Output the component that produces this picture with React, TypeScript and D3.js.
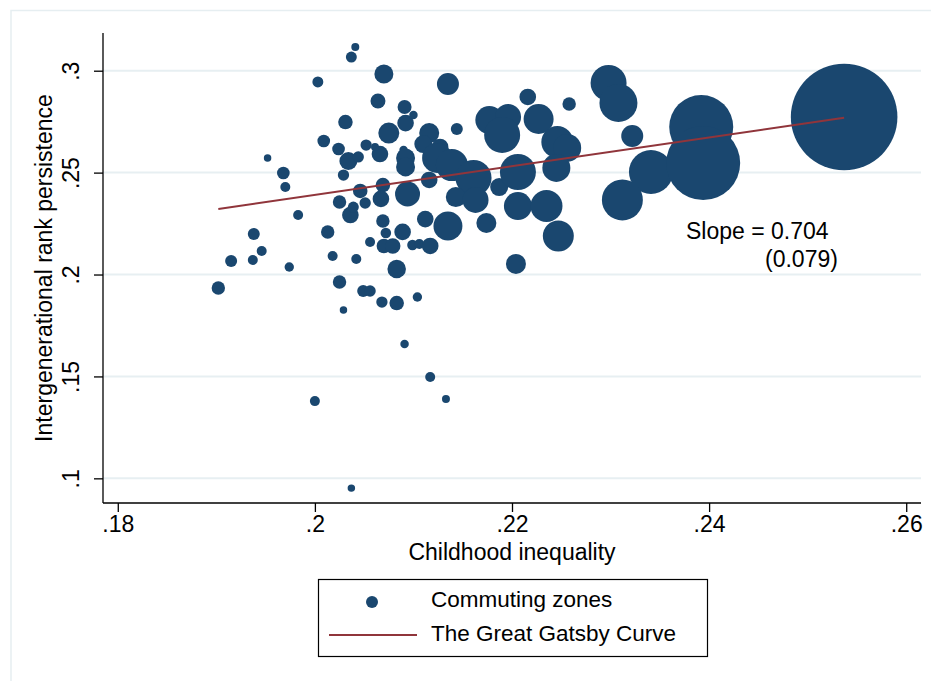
import React, { useEffect, useRef } from 'react'
import * as d3 from 'd3'

// commuting zones: childhood inequality (x), rank persistence (y), population weight (marker area)
const czInequality = [
  0.2041, 0.2037, 0.207, 0.2003, 0.2064, 0.2091, 0.2031, 0.2075, 0.2092, 0.2009,
  0.2024, 0.2052, 0.2066, 0.2061, 0.2034, 0.2044, 0.1952, 0.1968, 0.197, 0.2029,
  0.209, 0.2092, 0.2092, 0.2046, 0.2069, 0.2067, 0.2094, 0.2025, 0.2051, 0.2036,
  0.2039, 0.1983, 0.1938, 0.2013, 0.2069, 0.2072, 0.2089, 0.2056, 0.207, 0.2079,
  0.2099, 0.2106, 0.2117, 0.2083, 0.1915, 0.1937, 0.1946, 0.1974, 0.2018, 0.2042,
  0.1902, 0.2025, 0.2049, 0.2056, 0.2068, 0.2083, 0.2104, 0.2029, 0.2091, 0.2117,
  0.2133, 0.2, 0.2037, 0.2135, 0.21, 0.2116, 0.211, 0.2127, 0.2144, 0.2124,
  0.2139, 0.2161, 0.2143, 0.2163, 0.2116, 0.2135, 0.2112, 0.2174, 0.2187, 0.2206,
  0.2206, 0.2235, 0.2247, 0.2204, 0.2177, 0.2196, 0.219, 0.2216, 0.2227, 0.2246,
  0.2256, 0.2245, 0.2258, 0.2298, 0.2308, 0.2322, 0.2341, 0.2312, 0.2392, 0.2394,
  0.2537
]

const czPersistence = [
  0.3116, 0.3067, 0.2984, 0.2945, 0.2851, 0.2822, 0.2748, 0.2694, 0.2743, 0.2655,
  0.2616, 0.2635, 0.2591, 0.2626, 0.2557, 0.2577, 0.2572, 0.2498, 0.2429, 0.2488,
  0.2611, 0.2572, 0.2528, 0.241, 0.2439, 0.2371, 0.2395, 0.2356, 0.2351, 0.2292,
  0.2331, 0.2292, 0.2199, 0.2209, 0.2263, 0.2204, 0.2209, 0.216, 0.214, 0.214,
  0.2145, 0.215, 0.214, 0.2027, 0.2066, 0.2071, 0.2115, 0.2037, 0.2091, 0.2076,
  0.1934, 0.1963, 0.1919, 0.1919, 0.1865, 0.186, 0.189, 0.1826, 0.1659, 0.1497,
  0.1389, 0.1379, 0.0952, 0.2935, 0.2783, 0.2694, 0.264, 0.2626, 0.2714, 0.2572,
  0.2537, 0.2474, 0.238, 0.2366, 0.2464, 0.2238, 0.2272, 0.2253, 0.2429, 0.2503,
  0.2336, 0.2336, 0.2189, 0.2052, 0.2758, 0.2773, 0.2685, 0.2871, 0.2763, 0.265,
  0.2621, 0.2523, 0.2837, 0.294, 0.2842, 0.268, 0.2503, 0.2366, 0.2724, 0.2547,
  0.2773
]

const czWeight = [
  16, 30, 90, 30, 56, 49, 53, 110, 69, 40,
  40, 32, 69, 16, 81, 32, 14, 40, 25, 32,
  18, 90, 90, 53, 53, 69, 156, 45, 32, 69,
  30, 25, 36, 45, 45, 28, 69, 25, 53, 59,
  28, 25, 69, 86, 36, 25, 25, 22, 25, 25,
  45, 45, 36, 32, 32, 53, 22, 14, 18, 25,
  16, 25, 14, 121, 18, 100, 81, 69, 36, 225,
  256, 324, 100, 169, 69, 210, 69, 100, 81, 324,
  196, 256, 240, 100, 196, 169, 324, 69, 225, 256,
  196, 196, 45, 324, 361, 121, 484, 420, 1024, 1369,
  2841
]

const xTickValues = [0.18, 0.2, 0.22, 0.24, 0.26]
const xTickLabels = ['.18', '.2', '.22', '.24', '.26']
const yTickValues = [0.1, 0.15, 0.2, 0.25, 0.3]
const yTickLabels = ['.1', '.15', '.2', '.25', '.3']

// fitted line y = a + b x
const fitIntercept = 0.0983
const fitSlope = 0.704
const fitSE = 0.079

const legendLabels = ['Commuting zones', 'The Great Gatsby Curve']

const FONT = '"Liberation Sans", Arial, Helvetica, sans-serif'
const NAVY = '#1a476f'
const MAROON = '#90353b'
const GRID = '#e7eff2'

const width = 931
const height = 681
const plot = { left: 103, right: 921, top: 33, bottom: 503 }

const Chart = () => {
  const ref = useRef<SVGSVGElement>(null)

  useEffect(() => {
    const svg = d3.select(ref.current)
    svg.selectAll('*').remove()

    const points = czInequality.map((x, i) => ({ x, y: czPersistence[i], w: czWeight[i] }))

    const xScale = d3.scaleLinear().domain([0.1785, 0.2615]).range([plot.left, plot.right])
    const yScale = d3.scaleLinear().domain([0.0879, 0.3185]).range([plot.bottom, plot.top])
    const rScale = d3
      .scaleSqrt()
      .domain([0, d3.max(czWeight) as number])
      .range([0, 53.3])

    // outer graph region frame
    svg
      .append('rect')
      .attr('x', 11)
      .attr('y', 10.5)
      .attr('width', 960)
      .attr('height', 720)
      .attr('fill', 'none')
      .attr('stroke', '#e6eef1')
      .attr('stroke-width', 1.5)

    // gridlines
    svg
      .append('g')
      .selectAll('line')
      .data(yTickValues)
      .join('line')
      .attr('x1', plot.left)
      .attr('x2', plot.right)
      .attr('y1', d => yScale(d))
      .attr('y2', d => yScale(d))
      .attr('stroke', GRID)
      .attr('stroke-width', 2)

    // markers
    svg
      .append('g')
      .selectAll('circle')
      .data(points)
      .join('circle')
      .attr('cx', d => xScale(d.x))
      .attr('cy', d => yScale(d.y))
      .attr('r', d => rScale(d.w))
      .attr('fill', NAVY)

    // fitted line
    const [xMin, xMax] = d3.extent(czInequality) as [number, number]
    const line = d3
      .line<number>()
      .x(d => xScale(d))
      .y(d => yScale(fitIntercept + fitSlope * d))
    svg
      .append('path')
      .attr('d', line([xMin, xMax]))
      .attr('fill', 'none')
      .attr('stroke', MAROON)
      .attr('stroke-width', 2)

    // axes
    const xAxis = svg.append('g').attr('transform', `translate(0,${plot.bottom})`)
    xAxis
      .call(
        d3
          .axisBottom(xScale)
          .tickValues(xTickValues)
          .tickFormat((_, i) => xTickLabels[i])
          .tickSize(9)
          .tickSizeOuter(0)
          .tickPadding(4)
      )
      .call(g => g.select('.domain').attr('d', `M${plot.left},0H${plot.right}`).attr('stroke-width', 1.3))
    xAxis.selectAll('text').attr('font-family', FONT).attr('font-size', 23).attr('fill', '#000')
    xAxis.selectAll('line').attr('stroke-width', 1.3)

    const yAxis = svg.append('g').attr('transform', `translate(${plot.left},0)`)
    yAxis
      .call(
        d3
          .axisLeft(yScale)
          .tickValues(yTickValues)
          .tickFormat((_, i) => yTickLabels[i])
          .tickSize(9)
          .tickSizeOuter(0)
      )
      .call(g => g.select('.domain').attr('d', `M0,${plot.top}V${plot.bottom}`).attr('stroke-width', 1.3))
    yAxis.selectAll('line').attr('stroke-width', 1.3)
    yAxis
      .selectAll('text')
      .attr('font-family', FONT)
      .attr('font-size', 23)
      .attr('fill', '#000')
      .attr('x', null)
      .attr('dy', null)
      .attr('text-anchor', 'middle')
      .attr('transform', 'translate(-24,0) rotate(-90)')

    // axis titles
    svg
      .append('text')
      .attr('x', (plot.left + plot.right) / 2)
      .attr('y', 560)
      .attr('text-anchor', 'middle')
      .attr('font-family', FONT)
      .attr('font-size', 23)
      .text('Childhood inequality')

    svg
      .append('text')
      .attr('transform', `translate(52,${(plot.top + plot.bottom) / 2}) rotate(-90)`)
      .attr('text-anchor', 'middle')
      .attr('font-family', FONT)
      .attr('font-size', 23)
      .text('Intergenerational rank persistence')

    // slope annotation
    svg
      .append('text')
      .attr('x', 686)
      .attr('y', 239)
      .attr('font-family', FONT)
      .attr('font-size', 23)
      .text(`Slope = ${fitSlope.toFixed(3)}`)
    svg
      .append('text')
      .attr('x', 765)
      .attr('y', 267)
      .attr('font-family', FONT)
      .attr('font-size', 23)
      .text(`(${fitSE.toFixed(3)})`)

    // legend
    const legend = svg.append('g')
    legend
      .append('rect')
      .attr('x', 318.5)
      .attr('y', 579.5)
      .attr('width', 389)
      .attr('height', 77)
      .attr('fill', '#fff')
      .attr('stroke', '#000')
      .attr('stroke-width', 1.2)
    legend.append('circle').attr('cx', 372).attr('cy', 602).attr('r', 6).attr('fill', NAVY)
    legend
      .append('line')
      .attr('x1', 329)
      .attr('x2', 417)
      .attr('y1', 635)
      .attr('y2', 635)
      .attr('stroke', MAROON)
      .attr('stroke-width', 2)
    legend
      .selectAll('text')
      .data(legendLabels)
      .join('text')
      .attr('x', 431)
      .attr('y', (_, i) => 607 + i * 34)
      .attr('font-family', FONT)
      .attr('font-size', 22.5)
      .text(d => d)
  }, [])

  return (
    <svg
      ref={ref}
      width={width}
      height={height}
      style={{ position: 'absolute', left: 0, top: 0, background: '#fff' }}
    />
  )
}

const App = () => <Chart />

export default App
